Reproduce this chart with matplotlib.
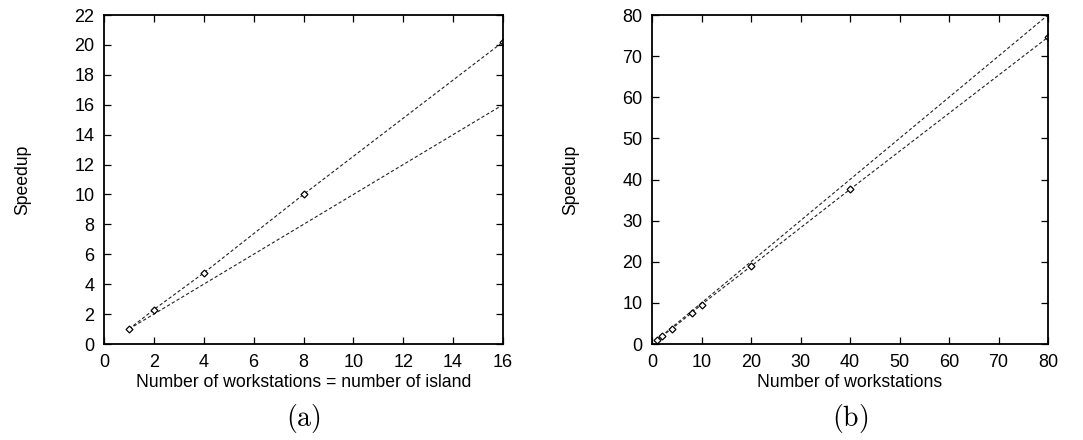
import matplotlib.pyplot as plt

plt.rcParams['font.family'] = ['Liberation Sans', 'DejaVu Sans']
plt.rcParams['mathtext.fontset'] = 'cm'

# (a) speedup vs. number of workstations = number of islands
ws_a = [1, 2, 4, 8, 16]
speedup_a = [1.0, 2.3, 4.75, 10.0, 20.2]
ideal_a = [1, 16]

# (b) speedup vs. number of workstations
ws_b = [1, 2, 4, 8, 10, 20, 40, 80]
speedup_b = [1.05, 1.9, 3.7, 7.55, 9.6, 18.9, 37.6, 74.6]
ideal_b = [1, 80]

fig = plt.figure(figsize=(10.83, 4.4), dpi=100)
ax1 = fig.add_axes([104 / 1083, 1 - 344 / 440, 399 / 1083, 329 / 440])
ax2 = fig.add_axes([652 / 1083, 1 - 344 / 440, 396 / 1083, 329 / 440])

line_kw = dict(color='#222222', linestyle=(0, (3, 2)), linewidth=0.8)
mark_kw = dict(marker='D', markersize=3.5, markerfacecolor='white',
               markeredgecolor='black', markeredgewidth=0.9)

ax1.plot(ideal_a, ideal_a, **line_kw)
ax1.plot(ws_a, speedup_a, **line_kw, **mark_kw)
ax1.set_xlim(0, 16)
ax1.set_ylim(0, 22)
ax1.set_xticks(range(0, 17, 2))
ax1.set_yticks(range(0, 23, 2))
ax1.set_xlabel('Number of workstations = number of island', fontsize=12.7, labelpad=2)

ax2.plot(ideal_b, ideal_b, **line_kw)
ax2.plot(ws_b, speedup_b, **line_kw, **mark_kw)
ax2.set_xlim(0, 80)
ax2.set_ylim(0, 80)
ax2.set_xticks(range(0, 81, 10))
ax2.set_yticks(range(0, 81, 10))
ax2.set_xlabel('Number of workstations', fontsize=12.7, labelpad=2)

for ax, tag in [(ax1, '(a)'), (ax2, '(b)')]:
    ax.set_ylabel('Speedup', fontsize=12.7, labelpad=31)
    ax.tick_params(direction='in', top=True, right=True, labelsize=13,
                   length=5, width=0.9, pad=7)
    for s in ax.spines.values():
        s.set_linewidth(1.3)
    ax.text(0.5, -0.225, r'$\mathrm{' + tag + '}$', transform=ax.transAxes,
            ha='center', va='center', fontsize=20)

fig.savefig('out.png', dpi=100)
